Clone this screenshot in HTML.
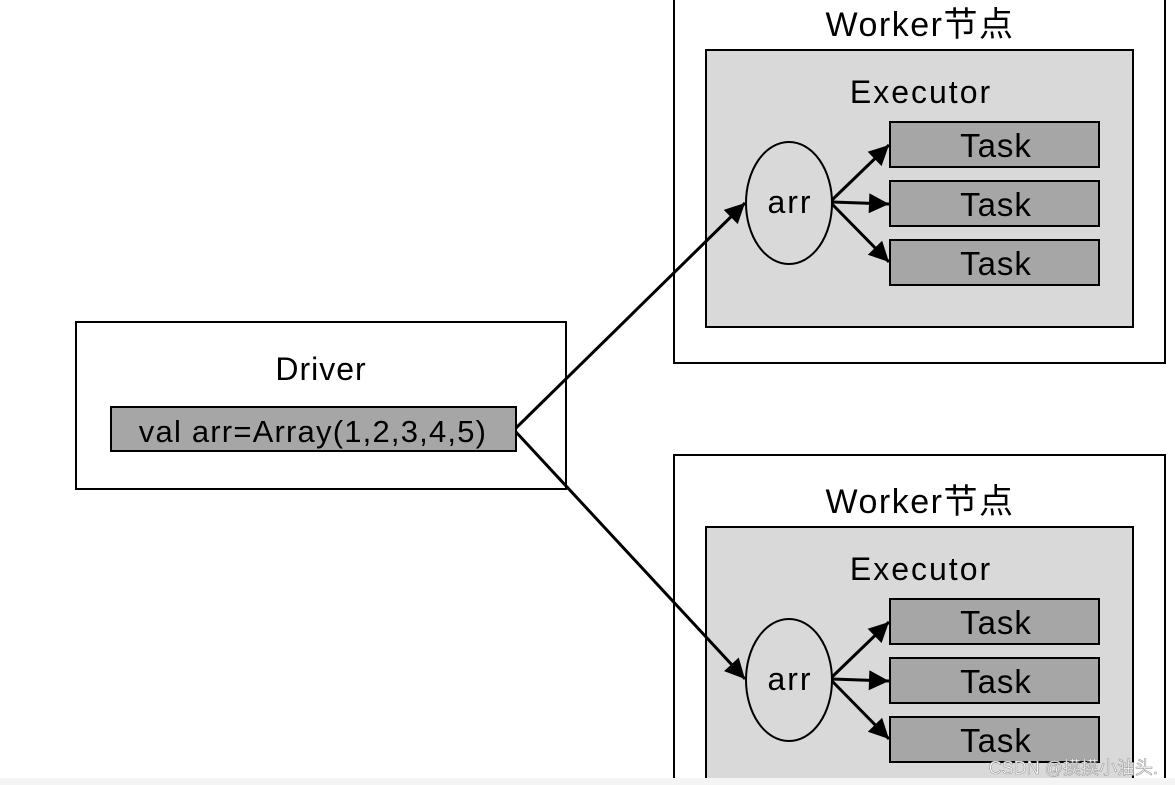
<!DOCTYPE html>
<html><head><meta charset="utf-8"><style>
body{margin:0;background:#fff;}
svg{display:block;font-family:"Liberation Sans","Noto Sans CJK SC",sans-serif;}
</style></head><body>
<svg width="1175" height="785" viewBox="0 0 1175 785" xmlns="http://www.w3.org/2000/svg">
<defs>
<marker id="h" viewBox="0 0 10 10" refX="10" refY="5" markerWidth="24" markerHeight="20" orient="auto" markerUnits="userSpaceOnUse"><path d="M0,0 L10,5 L0,10 z" fill="#000"/></marker></defs>
<rect width="1175" height="785" fill="#fff"/>
<!-- Driver -->
<rect x="76" y="322" width="490" height="167" fill="#fff" stroke="#000" stroke-width="2"/>
<text x="321" y="380" font-size="32" letter-spacing="1" text-anchor="middle">Driver</text>
<rect x="111" y="407" width="405" height="44" fill="#a6a6a6" stroke="#000" stroke-width="2"/>
<text x="313" y="442" font-size="31" letter-spacing="1.2" text-anchor="middle">val arr=Array(1,2,3,4,5)</text>
<g id="w">
<rect x="674" y="-10" width="491" height="373" fill="#fff" stroke="#000" stroke-width="2"/>
<text x="920" y="36" font-size="34" letter-spacing="1.5" text-anchor="middle">Worker节点</text>
<rect x="706" y="50" width="427" height="277" fill="#d9d9d9" stroke="#000" stroke-width="2"/>
<text x="921" y="103" font-size="32" letter-spacing="2" text-anchor="middle">Executor</text>
<ellipse cx="789" cy="203" rx="43" ry="61" fill="#d9d9d9" stroke="#000" stroke-width="2"/>
<text x="790" y="213" font-size="32" letter-spacing="2" text-anchor="middle">arr</text>
<rect x="890" y="122" width="209" height="45" fill="#a6a6a6" stroke="#000" stroke-width="2"/>
<rect x="890" y="181" width="209" height="45" fill="#a6a6a6" stroke="#000" stroke-width="2"/>
<rect x="890" y="240" width="209" height="45" fill="#a6a6a6" stroke="#000" stroke-width="2"/>
<text x="996" y="157" font-size="33" letter-spacing="1" text-anchor="middle">Task</text>
<text x="996" y="216" font-size="33" letter-spacing="1" text-anchor="middle">Task</text>
<text x="996" y="275" font-size="33" letter-spacing="1" text-anchor="middle">Task</text>
<line x1="832" y1="200" x2="889" y2="145" stroke="#000" stroke-width="3" marker-end="url(#h)"/>
<line x1="832" y1="202" x2="889" y2="204" stroke="#000" stroke-width="3" marker-end="url(#h)"/>
<line x1="832" y1="204" x2="889" y2="262" stroke="#000" stroke-width="3" marker-end="url(#h)"/>
</g>
<g transform="translate(0,477)">
<rect x="674" y="-22" width="491" height="340" fill="#fff" stroke="#000" stroke-width="2"/>
<text x="920" y="36" font-size="34" letter-spacing="1.5" text-anchor="middle">Worker节点</text>
<rect x="706" y="50" width="427" height="277" fill="#d9d9d9" stroke="#000" stroke-width="2"/>
<text x="921" y="103" font-size="32" letter-spacing="2" text-anchor="middle">Executor</text>
<ellipse cx="789" cy="203" rx="43" ry="61" fill="#d9d9d9" stroke="#000" stroke-width="2"/>
<text x="790" y="213" font-size="32" letter-spacing="2" text-anchor="middle">arr</text>
<rect x="890" y="122" width="209" height="45" fill="#a6a6a6" stroke="#000" stroke-width="2"/>
<rect x="890" y="181" width="209" height="45" fill="#a6a6a6" stroke="#000" stroke-width="2"/>
<rect x="890" y="240" width="209" height="45" fill="#a6a6a6" stroke="#000" stroke-width="2"/>
<text x="996" y="157" font-size="33" letter-spacing="1" text-anchor="middle">Task</text>
<text x="996" y="216" font-size="33" letter-spacing="1" text-anchor="middle">Task</text>
<text x="996" y="275" font-size="33" letter-spacing="1" text-anchor="middle">Task</text>
<line x1="832" y1="200" x2="889" y2="145" stroke="#000" stroke-width="3" marker-end="url(#h)"/>
<line x1="832" y1="202" x2="889" y2="204" stroke="#000" stroke-width="3" marker-end="url(#h)"/>
<line x1="832" y1="204" x2="889" y2="262" stroke="#000" stroke-width="3" marker-end="url(#h)"/>
</g>
<line x1="516" y1="428" x2="745" y2="203" stroke="#000" stroke-width="3" marker-end="url(#h)"/>
<line x1="516" y1="432" x2="745" y2="679" stroke="#000" stroke-width="3" marker-end="url(#h)"/>
<rect x="0" y="778" width="1175" height="7" fill="#f4f4f4"/>
<text x="1158" y="774" font-size="18" text-anchor="end" fill="#fff" stroke="#999" stroke-width="0.6">CSDN @摸摸小油头.</text>
</svg>
</body></html>
